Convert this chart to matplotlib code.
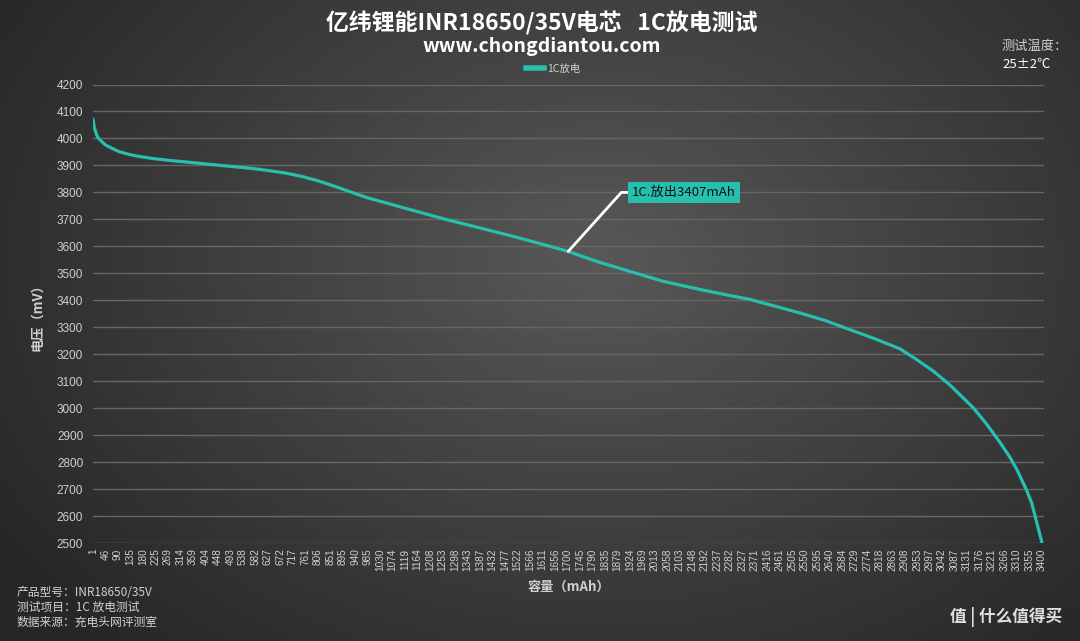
import numpy as np
import matplotlib
matplotlib.use("Agg")
import matplotlib.pyplot as plt
from matplotlib.lines import Line2D

plt.rcParams['font.family'] = ['Noto Sans CJK SC', 'DejaVu Sans']

# ---- data ----
capacity_mAh = [1, 5, 8, 14, 20, 32, 44, 62, 92, 122, 151, 211, 271, 331, 390, 449,
                569, 629, 689, 749, 807, 868, 928, 987, 1040, 1148, 1268, 1387,
                1506, 1602, 1703, 1805, 1924, 2044, 2175, 2265, 2354, 2444, 2533,
                2623, 2712, 2802, 2891, 2951, 3011, 3071, 3154, 3202, 3250, 3285,
                3310, 3345, 3363, 3375, 3400]
voltage_mV = [4072, 4044, 4032, 4014, 4001, 3989, 3977, 3967, 3952, 3943, 3936,
              3926, 3919, 3913, 3907, 3901, 3889, 3881, 3872, 3859, 3843, 3822,
              3800, 3779, 3764, 3733, 3699, 3668, 3637, 3610, 3581, 3544, 3507,
              3470, 3440, 3421, 3403, 3378, 3353, 3325, 3291, 3257, 3220, 3180,
              3137, 3085, 3001, 2940, 2872, 2818, 2772, 2695, 2648, 2600, 2500]
x_tick_labels = [1, 46, 90, 135, 180, 225, 269, 314, 359, 404, 448, 493, 538, 582,
                 627, 672, 717, 761, 806, 851, 895, 940, 985, 1030, 1074, 1119,
                 1164, 1208, 1253, 1298, 1343, 1387, 1432, 1477, 1522, 1566, 1611,
                 1656, 1700, 1745, 1790, 1835, 1879, 1924, 1969, 2013, 2058, 2103,
                 2148, 2192, 2237, 2282, 2327, 2371, 2416, 2461, 2505, 2550, 2595,
                 2640, 2684, 2729, 2774, 2818, 2863, 2908, 2953, 2997, 3042, 3087,
                 3131, 3176, 3221, 3266, 3310, 3355, 3400]
y_ticks = list(range(2500, 4201, 100))
series_name = "1C放电"
annot_point = (1703, 3581)
annot_text = "1C.放出3407mAh"

TEAL = '#27bfae'
GREY = '#d0d0d0'

fig = plt.figure(figsize=(10.8, 6.41), dpi=100)

# radial gradient background
bg = fig.add_axes([0, 0, 1, 1], zorder=-10)
yy, xx = np.mgrid[0:641, 0:1080]
r = np.sqrt(((xx - 600) / 700.0) ** 2 + ((yy - 260) / 520.0) ** 2)
val = np.clip(0.345 - 0.19 * r, 0.15, 0.4)
bg.imshow(np.dstack([val, val, val]), extent=[0, 1, 0, 1], aspect='auto')
bg.axis('off')

ax = fig.add_axes([93 / 1080, 1 - 543 / 641, (1044 - 93) / 1080, (543 - 84.5) / 641])
ax.set_facecolor('none')
ax.plot(capacity_mAh, voltage_mV, color=TEAL, lw=2.3, solid_capstyle='round',
        solid_joinstyle='round', zorder=3)
ax.set_xlim(1, 3407)
ax.set_ylim(2500, 4200)
ax.set_yticks(y_ticks)
ax.set_yticklabels([str(v) for v in y_ticks], fontsize=8.5, color=GREY,
                   family='Liberation Sans')
ax.set_xticks(x_tick_labels)
ax.set_xticklabels([str(v) for v in x_tick_labels], rotation=90, fontsize=7.2,
                   color=GREY, family='Liberation Sans')
ax.tick_params(length=0, pad=7)
ax.tick_params(axis='x', pad=4)
ax.grid(axis='y', color='#666666', lw=1)
ax.grid(axis='x', visible=False)
for s in ax.spines.values():
    s.set_visible(False)

ax.set_ylabel("电压（mV）", color=GREY, fontsize=9.5, labelpad=9, fontweight='bold')
ax.set_xlabel("容量（mAh）", color=GREY, fontsize=9.5, labelpad=6, fontweight='bold')

ax.annotate(annot_text, xy=annot_point, xytext=(64, 59), textcoords='offset pixels',
            ha='left', va='center', fontsize=9.5, color='#111111',
            bbox=dict(boxstyle='square,pad=0.3', fc=TEAL, ec='none'),
            arrowprops=dict(arrowstyle='-', color='white', lw=2,
                            connectionstyle='angle,angleA=180,angleB=48,rad=0',
                            shrinkA=0, shrinkB=0), zorder=5)

# titles
fig.text(0.502, 1 - 23 / 641, "亿纬锂能INR18650/35V电芯   1C放电测试", ha='center', va='center',
         fontsize=16.5, color='white', fontweight='bold')
fig.text(0.502, 1 - 47 / 641, "www.chongdiantou.com", ha='center', va='center',
         fontsize=14, color='white', fontweight='bold')

# legend
leg = fig.legend([Line2D([0], [0], color=TEAL, lw=4)], [series_name],
                 loc='center', bbox_to_anchor=(553 / 1080, 1 - 69 / 641),
                 frameon=False, fontsize=7.5, handlelength=1.7, handletextpad=0.3,
                 labelcolor=GREY)

# top-right note
fig.text(1002 / 1080, 1 - 46 / 641, "测试温度：", ha='left', va='center', fontsize=9.5, color=GREY)
fig.text(1002 / 1080, 1 - 64 / 641, "25±2℃", ha='left', va='center', fontsize=9.5, color='white')

# bottom-left info
for i, t in enumerate(["产品型号：INR18650/35V", "测试项目：1C 放电测试", "数据来源：充电头网评测室"]):
    fig.text(17 / 1080, 1 - (592 + 15 * i) / 641, t, ha='left', va='center',
             fontsize=8.5, color=GREY)

# watermark
fig.text(1062 / 1080, 1 - 617 / 641, "值 | 什么值得买", ha='right', va='center',
         fontsize=12, color='white', alpha=0.85, fontweight='bold')

fig.savefig("out.png", dpi=100)
